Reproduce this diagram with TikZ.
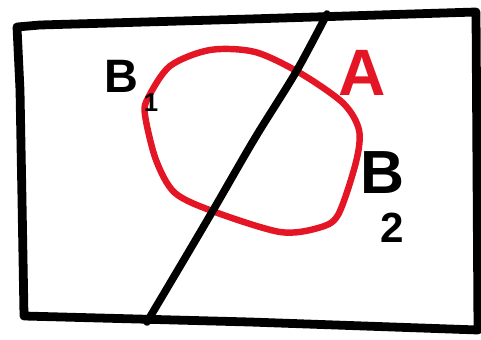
\documentclass[tikz,border=0pt]{standalone}
\usepackage{fontspec}
\setmainfont{Liberation Sans}
\usepackage[dvipsnames]{xcolor}
\definecolor{penred}{RGB}{228,22,38}

\begin{document}
\begin{tikzpicture}[x=0.03cm,y=-0.03cm,
  pen/.style={line width=7.5pt,line cap=round,line join=round},
  redpen/.style={line width=5.5pt,line cap=round,line join=round,penred}]
 \useasboundingbox (0,0) rectangle (481,339);
 % frame
 \draw[pen] (17,27) -- (40,25) -- (250,19) -- (476,12) -- (477,170) -- (478,330)
  -- (250,322) -- (24,316) -- (22,200) -- (20,90) -- cycle;
 % set A
 \draw[redpen] plot[smooth cycle] coordinates
  {(148,98) (170,66) (210,50) (255,52) (300,73) (343,103) (359,130) (356,162)
   (338,215) (318,228) (280,232) (215,212) (175,193) (156,160) (145,115)};
 % partition line
 \draw[pen,line width=6.5pt] plot[smooth] coordinates
  {(327,14) (296,72) (255,138) (215,207) (185,258) (147,322)};
 \node[font=\fontsize{40}{40}\selectfont\bfseries] (b1) at (121,76) {B};
 \node[font=\fontsize{22}{22}\selectfont\bfseries] (i1) at (151,103) {1};
 \node[font=\fontsize{56}{56}\selectfont\bfseries,text=penred] (a) at (362,73) {A};
 \node[font=\fontsize{52}{52}\selectfont\bfseries] (b2) at (382,173) {B};
 \node[font=\fontsize{36}{36}\selectfont\bfseries] (i2) at (392,228) {2};
\end{tikzpicture}
\end{document}
